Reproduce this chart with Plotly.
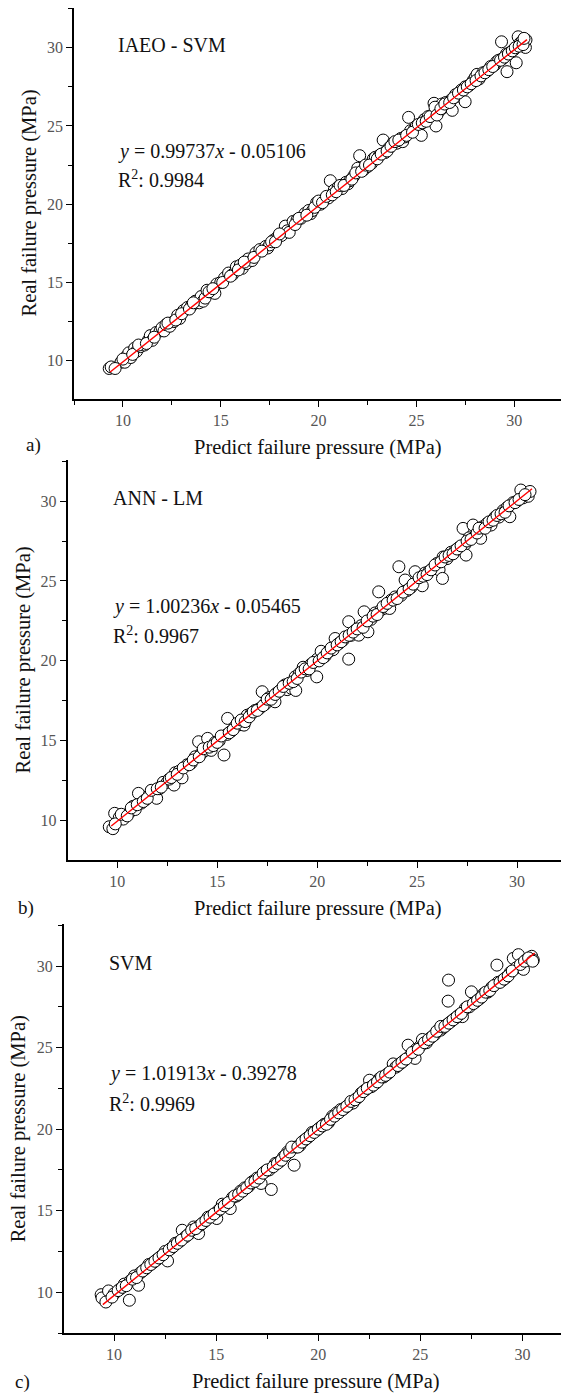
import plotly.graph_objects as go

# ---------------- data ----------------
panel_names = ["IAEO - SVM", "ANN - LM", "SVM"]
panel_letters = ["a)", "b)", "c)"]
slopes = [0.99737, 1.00236, 1.01913]
intercepts = [-0.05106, -0.05465, -0.39278]
r2_values = ["0.9984", "0.9967", "0.9969"]
fit_x_start = [9.35, 9.7, 9.45]
fit_x_end = [30.65, 30.75, 30.6]

a_pred = [9.3, 9.4, 9.9, 10.1, 10.2, 10.3, 10.4, 10.6, 10.7, 10.9, 11.1, 11.3, 11.4, 11.5, 11.7, 11.9,
          12.0, 12.1, 12.2, 12.4, 12.6, 12.8, 12.9, 13.1, 13.3, 13.5, 13.7, 13.9, 14.0, 14.1, 14.2, 14.3,
          14.5, 14.7, 14.8, 15.0, 15.2, 15.4, 15.6, 15.8, 16.0, 16.1, 16.3, 16.4, 16.6, 16.8, 17.0, 17.3,
          17.4, 17.5, 17.7, 17.9, 18.1, 18.3, 18.4, 18.5, 18.7, 18.9, 19.1, 19.3, 19.5, 19.6, 19.7, 19.9,
          20.1, 20.3, 20.5, 20.6, 20.8, 21.0, 21.2, 21.4, 21.5, 21.6, 21.8, 22.0, 22.1, 22.3, 22.5, 22.7,
          22.8, 22.9, 23.1, 23.3, 23.4, 23.6, 23.8, 24.0, 24.2, 24.3, 24.4, 24.6, 24.7, 24.9, 25.0, 25.2,
          25.25, 25.4, 25.6, 25.8, 25.9, 26.0, 26.1, 26.2, 26.3, 26.4, 26.5, 26.6, 26.8, 26.83, 27.0, 27.1,
          27.2, 27.3, 27.49, 27.5, 27.7, 27.9, 28.0, 28.1, 28.2, 28.4, 28.6, 28.8, 29.0, 29.1, 29.2, 29.4,
          29.35, 29.6, 29.63, 29.8, 30.0, 30.1, 30.2, 30.3, 30.4, 30.57, 30.6]
a_real = [9.5, 9.6, 9.9, 9.9, 10.3, 10.5, 10.2, 10.8, 10.6, 10.9, 11.0, 11.3, 11.6, 11.3, 11.8, 11.9,
          12.1, 11.9, 12.3, 12.2, 12.5, 12.9, 12.7, 13.2, 13.4, 13.5, 13.8, 13.7, 14.1, 13.8, 14.0, 14.5,
          14.4, 14.3, 14.9, 15.0, 15.3, 15.6, 15.5, 16.0, 16.1, 15.9, 16.2, 16.5, 16.4, 16.9, 17.1, 17.3,
          17.2, 17.4, 17.7, 17.9, 18.0, 18.6, 18.3, 18.2, 18.9, 19.0, 19.1, 19.4, 19.6, 19.4, 19.6, 20.1,
          20.0, 20.3, 20.4, 21.5, 20.9, 21.1, 21.0, 21.4, 21.3, 21.5, 21.8, 22.3, 23.1, 22.2, 22.4, 22.6,
          22.9, 23.0, 23.1, 24.1, 23.3, 23.6, 23.9, 23.9, 24.2, 24.0, 24.3, 25.55, 24.7, 24.8, 25.0, 25.1,
          24.4, 25.4, 25.6, 25.7, 26.45, 25.0, 26.1, 26.0, 26.4, 26.2, 26.5, 26.3, 26.7, 26.0, 27.0, 26.9,
          27.1, 27.3, 26.55, 27.5, 27.6, 27.9, 28.1, 28.3, 28.0, 28.4, 28.5, 28.8, 28.9, 29.1, 29.2, 29.3,
          30.38, 29.6, 28.47, 29.7, 29.9, 29.04, 30.7, 30.3, 30.4, 30.02, 30.5]
a_pred_more = [9.6, 10.0, 10.5, 10.8, 11.2, 11.6, 12.3, 12.7, 13.0, 13.4, 13.6, 14.4, 14.6, 15.1, 15.5,
               15.9, 16.2, 16.7, 17.1, 17.6, 17.8, 18.0, 18.8, 19.0, 19.4, 19.8, 20.0, 20.2, 20.4, 20.7,
               20.9, 21.1, 21.3, 21.7, 21.9, 22.2, 22.4, 22.6, 23.0, 23.2, 23.5, 23.7, 23.9, 24.1, 24.5,
               24.8, 25.1, 25.3, 25.5, 25.7, 25.95, 26.05, 26.25, 26.45, 26.7, 26.9, 27.15, 27.4, 27.6,
               27.8, 28.05, 28.3, 28.5, 28.7, 28.9, 29.3, 29.5, 29.7, 29.9, 30.05, 30.25, 30.45, 30.5]
a_real_more = [9.5, 10.1, 10.4, 11.0, 11.1, 11.5, 12.4, 12.6, 13.0, 13.3, 13.7, 14.4, 14.6, 15.0, 15.4,
               15.8, 16.3, 16.6, 17.0, 17.6, 17.6, 18.1, 18.7, 19.1, 19.3, 19.8, 20.2, 20.1, 20.5, 20.6,
               20.8, 21.2, 21.2, 21.6, 22.0, 22.1, 22.5, 22.5, 22.9, 23.2, 23.4, 23.7, 24.0, 24.1, 24.4,
               24.6, 25.1, 25.2, 25.3, 25.6, 26.2, 25.7, 26.1, 26.4, 26.5, 26.8, 27.1, 27.3, 27.5,
               27.7, 27.9, 28.2, 28.4, 28.6, 28.8, 29.2, 29.4, 29.6, 29.8, 30.0, 30.1, 30.2, 30.6]

b_pred = [9.6, 9.78, 9.87, 10.1, 10.3, 10.6, 10.8, 10.9, 11.06, 11.2, 11.4, 11.6, 11.8, 11.97, 12.1, 12.3,
          12.5, 12.84, 12.9, 13.1, 13.24, 13.5, 13.7, 13.9, 14.07, 14.2, 14.4, 14.52, 14.7, 14.9, 15.1, 15.34,
          15.5, 15.52, 15.7, 15.9, 16.1, 16.34, 16.5, 16.7, 16.9, 17.1, 17.25, 17.4, 17.6, 17.89, 18.0, 18.2,
          18.4, 18.5, 18.71, 18.9, 18.93, 19.1, 19.3, 19.5, 19.7, 19.98, 20.0, 20.2, 20.4, 20.6, 20.8, 20.9,
          21.1, 21.3, 21.58, 21.58, 21.7, 21.9, 22.08, 22.2, 22.35, 22.54, 22.7, 22.9, 23.08, 23.2, 23.4, 23.63,
          23.7, 23.9, 24.09, 24.2, 24.4, 24.5, 24.7, 24.9, 25.0, 25.2, 25.26, 25.4, 25.6, 25.8, 26.0, 26.1,
          26.27, 26.3, 26.5, 26.7, 26.9, 27.1, 27.3, 27.4, 27.45, 27.6, 27.8, 27.9, 28.18, 28.3, 28.5, 28.7,
          28.9, 29.1, 29.3, 29.5, 29.64, 29.8, 30.0, 30.19, 30.3, 30.56, 30.65]
b_real = [9.62, 9.5, 10.46, 10.2, 10.1, 10.5, 10.9, 10.7, 11.71, 11.1, 11.3, 11.6, 11.7, 11.4, 12.0, 12.4,
          12.4, 12.23, 13.0, 13.1, 12.68, 13.5, 13.6, 14.0, 14.94, 14.2, 14.4, 15.15, 14.4, 14.9, 15.0, 14.11,
          15.4, 16.4, 15.6, 15.9, 16.0, 15.98, 16.6, 16.7, 16.9, 17.0, 18.07, 17.3, 17.7, 17.44, 18.0, 18.2,
          18.5, 18.2, 18.28, 19.0, 18.15, 19.2, 19.6, 19.4, 19.8, 19.0, 20.1, 20.6, 20.3, 20.6, 20.7, 21.4,
          21.1, 21.3, 20.11, 22.45, 21.6, 21.9, 21.61, 22.2, 23.07, 21.82, 22.6, 23.0, 24.32, 23.2, 23.3, 23.28,
          23.8, 24.0, 25.89, 24.1, 25.06, 24.4, 24.6, 25.58, 24.9, 25.1, 24.7, 25.5, 25.6, 25.8, 26.1, 25.7,
          25.16, 26.5, 26.4, 26.8, 26.9, 27.1, 28.29, 27.3, 26.62, 27.7, 28.5, 27.8, 27.67, 28.4, 28.6, 28.5,
          29.0, 29.0, 29.4, 29.6, 29.02, 29.9, 30.0, 30.69, 30.2, 30.3, 30.6]
b_pred_more = [9.9, 10.2, 10.5, 10.7, 11.0, 11.3, 11.5, 11.7, 12.0, 12.2, 12.6, 12.7, 13.0, 13.3, 13.6,
               13.8, 14.1, 14.3, 14.6, 14.8, 15.0, 15.2, 15.6, 15.8, 16.0, 16.2, 16.4, 16.6, 16.8, 17.0,
               17.3, 17.5, 17.7, 17.9, 18.1, 18.3, 18.6, 18.8, 19.0, 19.2, 19.4, 19.6, 19.8, 20.1, 20.3,
               20.5, 20.7, 21.0, 21.2, 21.4, 21.6, 21.8, 22.0, 22.3, 22.5, 22.8, 23.0, 23.3, 23.5, 23.8,
               24.0, 24.3, 24.6, 24.8, 25.1, 25.3, 25.5, 25.7, 25.9, 26.2, 26.4, 26.6, 26.8, 27.0, 27.2,
               27.5, 27.7, 28.0, 28.1, 28.4, 28.6, 28.8, 29.0, 29.2, 29.4, 29.6, 29.9, 30.1, 30.4]
b_real_more = [9.8, 10.4, 10.3, 10.8, 11.0, 11.2, 11.4, 11.9, 12.0, 12.1, 12.6, 12.7, 12.9, 13.3, 13.5,
               13.8, 14.0, 14.5, 14.6, 14.7, 14.9, 15.3, 15.5, 15.7, 16.1, 16.3, 16.2, 16.5, 16.8, 16.9,
               17.2, 17.6, 17.6, 17.9, 18.1, 18.4, 18.6, 18.7, 18.9, 19.3, 19.5, 19.5, 19.9, 20.0, 20.2,
               20.5, 20.8, 21.0, 21.2, 21.5, 21.6, 21.8, 22.0, 22.1, 22.5, 22.8, 22.9, 23.4, 23.6, 23.8,
               23.9, 24.3, 24.5, 24.8, 25.2, 25.3, 25.4, 25.7, 26.0, 26.2, 26.5, 26.6, 26.7, 27.0, 27.2,
               27.5, 27.6, 28.0, 28.3, 28.3, 28.7, 28.8, 29.1, 29.2, 29.3, 29.7, 29.9, 30.1, 30.4]

c_pred = [9.37, 9.41, 9.73, 10.0, 10.3, 10.5, 10.75, 10.8, 11.0, 11.2, 11.3, 11.5, 11.7, 11.9, 12.1, 12.3,
          12.5, 12.62, 12.8, 13.0, 13.2, 13.34, 13.5, 13.7, 13.9, 14.14, 14.2, 14.4, 14.6, 14.8, 15.03, 15.1,
          15.3, 15.5, 15.69, 15.8, 16.0, 16.2, 16.4, 16.6, 16.8, 17.0, 17.2, 17.4, 17.6, 17.7, 17.9, 18.1,
          18.3, 18.5, 18.82, 18.9, 19.1, 19.3, 19.5, 19.7, 19.9, 20.1, 20.3, 20.5, 20.7, 20.9, 21.1, 21.3,
          21.5, 21.7, 21.9, 22.1, 22.3, 22.51, 22.6, 22.8, 23.0, 23.2, 23.4, 23.67, 23.8, 24.0, 24.2, 24.4,
          24.5, 24.74, 24.8, 25.0, 25.1, 25.3, 25.5, 25.7, 25.9, 25.99, 26.1, 26.3, 26.36, 26.38, 26.5, 26.7,
          26.9, 27.06, 27.2, 27.4, 27.5, 27.7, 27.9, 28.1, 28.3, 28.5, 28.75, 28.8, 29.0, 29.2, 29.4, 29.55,
          29.7, 29.8, 30.05, 30.2, 30.45, 30.53]
c_real = [9.85, 9.65, 10.08, 9.9, 10.2, 10.5, 9.51, 10.7, 11.0, 10.43, 11.2, 11.4, 11.7, 11.8, 12.0, 12.2,
          12.5, 11.92, 12.7, 13.0, 13.1, 13.8, 13.4, 13.6, 14.0, 13.6, 14.1, 14.3, 14.6, 14.7, 14.52, 15.0,
          15.4, 15.4, 15.13, 15.8, 15.9, 16.2, 16.4, 16.5, 16.8, 17.0, 16.67, 17.4, 17.5, 16.3, 17.9, 18.0,
          18.3, 18.6, 17.79, 18.9, 19.0, 19.3, 19.5, 19.8, 19.9, 20.1, 20.3, 20.4, 20.8, 21.0, 21.2, 21.3,
          21.5, 21.6, 21.9, 22.2, 22.4, 23.0, 22.6, 22.8, 23.1, 23.2, 23.4, 24.0, 23.8, 24.0, 24.2, 25.15,
          24.5, 24.34, 24.9, 25.1, 25.5, 25.3, 25.6, 25.8, 26.1, 26.07, 26.2, 26.4, 27.85, 29.14, 26.6, 26.8,
          27.0, 26.9, 27.4, 27.5, 28.42, 27.8, 28.0, 28.3, 28.4, 28.7, 30.06, 29.0, 29.1, 29.3, 29.6, 30.47,
          29.9, 30.7, 29.8, 30.4, 30.6, 30.37]
c_pred_more = [9.6, 9.9, 10.2, 10.4, 10.6, 10.9, 11.1, 11.4, 11.6, 11.8, 12.0, 12.2, 12.4, 12.7, 12.9,
               13.1, 13.3, 13.6, 13.8, 14.0, 14.3, 14.5, 14.7, 14.9, 15.2, 15.4, 15.6, 15.9, 16.1, 16.3,
               16.5, 16.7, 16.9, 17.1, 17.3, 17.5, 17.8, 18.0, 18.2, 18.4, 18.6, 18.7, 19.0, 19.2, 19.4,
               19.6, 19.8, 20.0, 20.2, 20.4, 20.6, 20.8, 21.0, 21.2, 21.4, 21.6, 21.8, 22.0, 22.2, 22.4,
               22.7, 22.9, 23.1, 23.3, 23.5, 23.9, 24.1, 24.3, 24.6, 24.9, 25.2, 25.4, 25.6, 25.8, 26.0,
               26.2, 26.4, 26.6, 26.8, 27.0, 27.3, 27.6, 27.8, 28.0, 28.2, 28.4, 28.6, 28.9, 29.1, 29.3,
               29.5, 29.9, 30.1, 30.3, 30.5]
c_real_more = [9.4, 9.7, 10.1, 10.3, 10.4, 10.8, 10.9, 11.3, 11.5, 11.7, 11.9, 12.1, 12.3, 12.6, 12.8,
               13.0, 13.2, 13.5, 13.8, 13.9, 14.2, 14.4, 14.6, 14.8, 15.1, 15.3, 15.5, 15.9, 16.0, 16.2,
               16.4, 16.7, 16.8, 17.0, 17.3, 17.5, 17.7, 17.9, 18.1, 18.4, 18.6, 18.9, 18.9, 19.2, 19.4,
               19.6, 19.8, 20.0, 20.2, 20.3, 20.6, 20.8, 21.0, 21.2, 21.4, 21.7, 21.8, 22.0, 22.3, 22.5,
               22.7, 22.9, 23.2, 23.3, 23.5, 23.9, 24.1, 24.3, 24.7, 24.9, 25.3, 25.5, 25.7, 26.0, 26.3,
               26.3, 26.5, 26.7, 26.9, 27.1, 27.5, 27.7, 27.9, 28.1, 28.4, 28.5, 28.8, 29.0, 29.2, 29.4,
               29.7, 30.1, 30.3, 30.5, 30.3]

preds = [a_pred + a_pred_more, b_pred + b_pred_more, c_pred + c_pred_more]
reals = [a_real + a_real_more, b_real + b_real_more, c_real + c_real_more]

x_ranges = [[7.5, 32.42], [7.51, 32.55], [7.54, 32.23]]
y_ranges = [[7.55, 32.54], [7.54, 32.57], [7.5, 32.58]]

# ---------------- layout geometry (page pixels) ----------------
PAGE_W, PAGE_H = 569, 1394
OFF = 8  # default body margin of the html page
W, H = PAGE_W - OFF, PAGE_H - OFF
# (left, right, top, bottom) of each plot area in page pixels
boxes = [(74, 561.6, 8, 399), (67.5, 568, 460, 860), (63.8, 568, 924, 1333)]
letter_pos = [(33, 445), (26, 908), (22, 1382)]

FONT = "Liberation Serif"
fig = go.Figure()
annotations = []


def fx_(px):
    return min(1.0, max(0.0, (px - OFF) / W))


def fy_(py):
    return min(1.0, max(0.0, 1 - (py - OFF) / H))


for i in range(3):
    xa = "x" if i == 0 else f"x{i+1}"
    ya = "y" if i == 0 else f"y{i+1}"
    xname = "xaxis" if i == 0 else f"xaxis{i+1}"
    yname = "yaxis" if i == 0 else f"yaxis{i+1}"
    l, r, t, b = boxes[i]

    fig.add_trace(go.Scatter(
        x=preds[i], y=reals[i], mode="markers", xaxis=xa, yaxis=ya,
        marker=dict(symbol="circle", size=12, color="white",
                    line=dict(color="black", width=1)),
        showlegend=False, hoverinfo="x+y"))
    fx = [fit_x_start[i], fit_x_end[i]]
    fy = [slopes[i] * v + intercepts[i] for v in fx]
    fig.add_trace(go.Scatter(
        x=fx, y=fy, mode="lines", xaxis=xa, yaxis=ya,
        line=dict(color="red", width=1.4), showlegend=False, hoverinfo="skip"))

    common = dict(showgrid=False, zeroline=False, showline=True, linecolor="black", linewidth=1.5,
                  ticks="outside", ticklen=6, tickwidth=1.3, tickcolor="black",
                  tick0=0, dtick=5, mirror=False,
                  tickfont=dict(family=FONT, size=16, color="#555555"),
                  minor=dict(ticks="outside", ticklen=4, tickwidth=1.2, tickcolor="black",
                             dtick=2.5, tick0=0))
    fig.layout[xname] = dict(domain=[fx_(l), fx_(r)], range=x_ranges[i], anchor=ya, **common)
    fig.layout[yname] = dict(domain=[fy_(b), fy_(t)], range=y_ranges[i], anchor=xa, **common)

    # texts inside plot
    annotations.append(dict(xref=xa, yref=ya, x=9.67, y=30.17, text=panel_names[i],
                            showarrow=False, xanchor="left", yanchor="middle",
                            font=dict(family=FONT, size=20, color="#111111")))
    sign = "-" if intercepts[i] < 0 else "+"
    eq = f"<i>y</i> = {slopes[i]:.5f}<i>x</i> {sign} {abs(intercepts[i]):.5f}"
    annotations.append(dict(xref=xa, yref=ya, x=9.67, y=23.4, text=eq,
                            showarrow=False, xanchor="left", yanchor="middle",
                            font=dict(family=FONT, size=20, color="#111111")))
    annotations.append(dict(xref=xa, yref=ya, x=9.67, y=21.6,
                            text=f"R<sup>2</sup>: {r2_values[i]}",
                            showarrow=False, xanchor="left", yanchor="middle",
                            font=dict(family=FONT, size=20, color="#111111")))
    # axis titles
    annotations.append(dict(xref="paper", yref="paper", x=fx_((l + r) / 2), y=fy_(b + 48),
                            text="Predict failure pressure (MPa)", showarrow=False,
                            xanchor="center", yanchor="middle",
                            font=dict(family=FONT, size=20.5, color="#111111")))
    annotations.append(dict(xref="paper", yref="paper", x=fx_(l - 45), y=fy_((t + b) / 2),
                            text="Real failure pressure (MPa)", showarrow=False, textangle=-90,
                            xanchor="center", yanchor="middle",
                            font=dict(family=FONT, size=20.5, color="#111111")))
    lx, ly = letter_pos[i]
    annotations.append(dict(xref="paper", yref="paper", x=fx_(lx), y=fy_(ly),
                            text=panel_letters[i], showarrow=False,
                            xanchor="center", yanchor="middle",
                            font=dict(family=FONT, size=19, color="#111111")))

fig.update_layout(width=W, height=H, margin=dict(l=0, r=0, t=0, b=0),
                  paper_bgcolor="white", plot_bgcolor="white",
                  annotations=annotations)

fig.write_html("out.html")
